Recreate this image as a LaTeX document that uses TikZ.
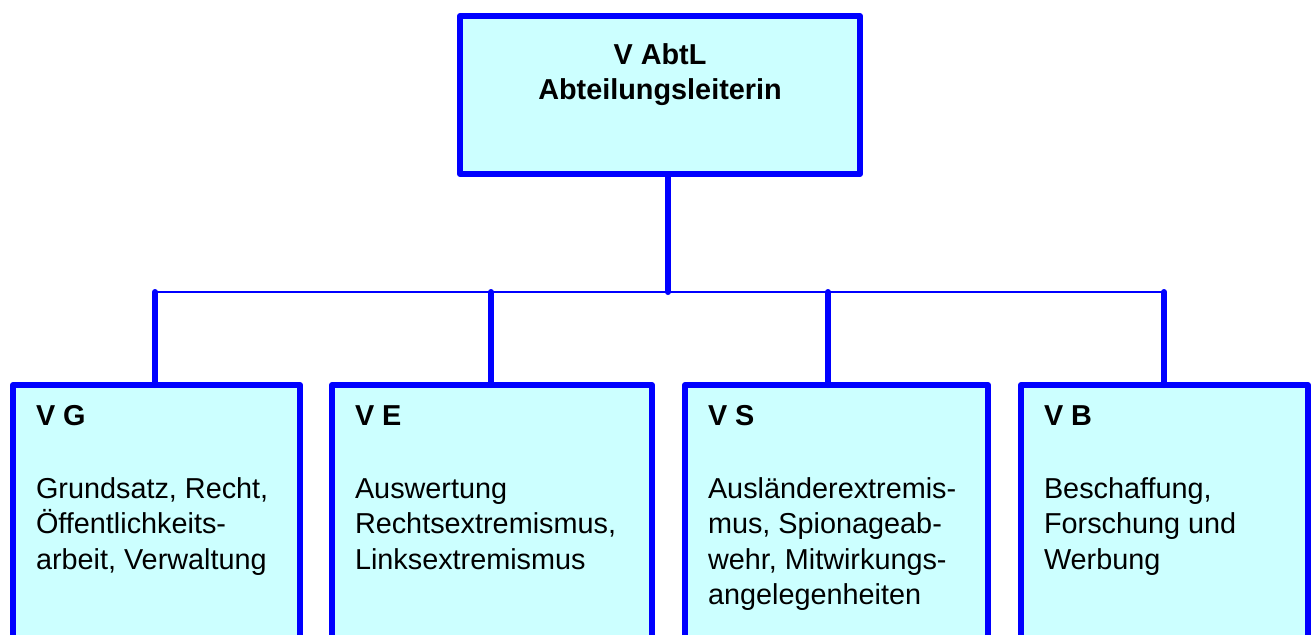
\documentclass[tikz,border=0pt]{standalone}
\usepackage{fontspec}
\setmainfont{Liberation Sans}
\usepackage{tikz}
\usetikzlibrary{positioning}
\usepackage{xcolor}
\definecolor{vblue}{HTML}{0000FF}
\definecolor{vcyan}{HTML}{CCFFFF}

\begin{document}
\begin{tikzpicture}[every node/.style={font=\fontsize{8.2}{10}\selectfont},
    headbox/.style={draw=vblue,fill=vcyan,line width=0.06cm,line join=round,outer sep=0pt,inner xsep=0pt,inner ysep=0.24cm,anchor=north},
    unitbox/.style={draw=vblue,fill=vcyan,line width=0.06cm,line join=round,outer sep=0pt,inner xsep=0.23cm,inner ysep=0.16cm,anchor=north west},
    stub/.style={draw=vblue,line width=0.06cm,line cap=round},
    busline/.style={draw=vblue,line width=0.02cm}]
    \path[use as bounding box,clip] (0,0) rectangle (13.14,-6.34);
    \node[headbox] (abtl) at (6.60,-0.16)
      {\parbox[t][1.10cm][t]{4.0cm}{\centering\strut\textbf{V AbtL}\\\textbf{Abteilungsleiterin}}};
    \node[unitbox] (vg) at (0.13,-3.85)
      {\parbox[t][3cm][t]{2.41cm}{\raggedright\strut\textbf{V G}\\[10.8pt]Grundsatz, Recht,\\Öffentlichkeits-\\arbeit, Verwaltung}};
    \node[unitbox] (ve) at (3.32,-3.85)
      {\parbox[t][3cm][t]{2.74cm}{\raggedright\strut\textbf{V E}\\[10.8pt]Auswertung\\Rechtsextremismus,\\Linksextremismus}};
    \node[unitbox] (vs) at (6.85,-3.85)
      {\parbox[t][3cm][t]{2.57cm}{\raggedright\strut\textbf{V S}\\[10.8pt]Ausländerextremis-\\mus, Spionageab-\\wehr, Mitwirkungs-\\angelegenheiten}};
    \node[unitbox] (vb) at (10.21,-3.85)
      {\parbox[t][3cm][t]{2.41cm}{\raggedright\strut\textbf{V B}\\[10.8pt]Beschaffung,\\Forschung und\\Werbung}};
    % bus line
    \coordinate (bT) at (6.68,-2.92);
    \coordinate (bG) at (1.55,-2.92);
    \coordinate (bE) at (4.91,-2.92);
    \coordinate (bS) at (8.28,-2.92);
    \coordinate (bB) at (11.64,-2.92);
    \draw[busline] (bG) -- (bB);
    \draw[stub] (abtl.south -| bT) -- (bT);
    \draw[stub] (bG) -- (bG |- vg.north);
    \draw[stub] (bE) -- (bE |- ve.north);
    \draw[stub] (bS) -- (bS |- vs.north);
    \draw[stub] (bB) -- (bB |- vb.north);
  \end{tikzpicture}
\end{document}
